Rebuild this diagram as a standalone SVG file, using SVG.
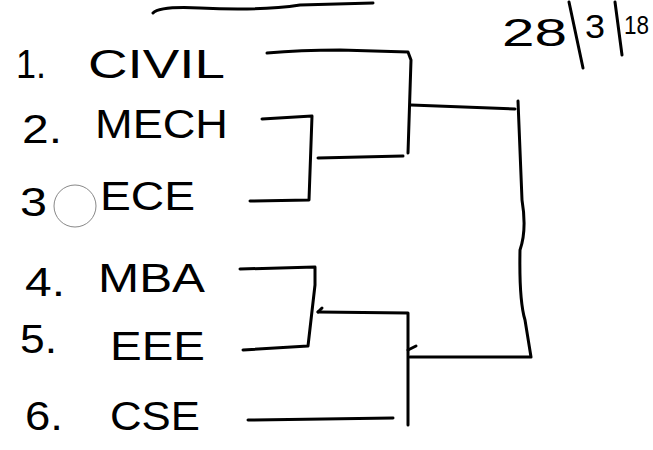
<svg xmlns="http://www.w3.org/2000/svg" width="653" height="450" viewBox="0 0 653 450">
<style>
.t{font-family:"Liberation Sans","DejaVu Sans",sans-serif;fill:#000;font-size:40px}
.c{fill:none;stroke:#000;stroke-width:3;stroke-linecap:round;stroke-linejoin:round}
</style>
<rect width="653" height="450" fill="#fff"/>
<path class="c" d="M153,13 Q160,6 200,8 Q260,11 300,5 L373,3"/>
<g id="date">
<text class="t" x="502" y="46" style="font-size:38px" textLength="65" lengthAdjust="spacingAndGlyphs">28</text>
<path class="c" d="M569,2 L583,68"/>
<text class="t" x="585" y="38" style="font-size:33px" textLength="20" lengthAdjust="spacingAndGlyphs">3</text>
<path class="c" d="M615,2 L622,55"/>
<text class="t" x="624" y="34" style="font-size:26px" textLength="25" lengthAdjust="spacingAndGlyphs">18</text>
</g>
<g id="n1"><text class="t" x="16" y="78" textLength="30" lengthAdjust="spacingAndGlyphs">1.</text><text class="t" x="88" y="78" textLength="137" lengthAdjust="spacingAndGlyphs">CIVIL</text></g>
<g id="n2"><text class="t" x="22" y="143" textLength="40" lengthAdjust="spacingAndGlyphs">2.</text><text class="t" x="95" y="138" textLength="133" lengthAdjust="spacingAndGlyphs">MECH</text></g>
<g id="n3"><text class="t" x="20" y="216" textLength="27" lengthAdjust="spacingAndGlyphs">3</text><circle cx="75" cy="206" r="21" fill="none" stroke="#888" stroke-width="1"/><text class="t" x="100" y="210" textLength="95" lengthAdjust="spacingAndGlyphs">ECE</text></g>
<g id="n4"><text class="t" x="25" y="296" textLength="40" lengthAdjust="spacingAndGlyphs">4.</text><text class="t" x="98" y="292" textLength="107" lengthAdjust="spacingAndGlyphs">MBA</text></g>
<g id="n5"><text class="t" x="20" y="353" textLength="37" lengthAdjust="spacingAndGlyphs">5.</text><text class="t" x="110" y="360" textLength="95" lengthAdjust="spacingAndGlyphs">EEE</text></g>
<g id="n6"><text class="t" x="25" y="430" textLength="38" lengthAdjust="spacingAndGlyphs">6.</text><text class="t" x="110" y="430" textLength="90" lengthAdjust="spacingAndGlyphs">CSE</text></g>
<g id="connectors">
<path class="c" d="M267,53 Q300,50 340,50 L408,52 L411,60 L408,153"/>
<path class="c" d="M262,119 L312,116 L309,200 L250,201"/>
<path class="c" d="M318,158 L403,156"/>
<path class="c" d="M411,105 L515,109 M518,101 L522,200 Q527,230 520,250 Q519,300 525,320 L531,357 L410,357"/>
<path class="c" d="M240,269 L315,267 L315,285 L308,346 L243,350"/>
<path class="c" d="M318,312 L408,313 L408,425 M248,420 L393,418"/>
<path class="c" d="M318,312 L322,308 M408,350 L416,346"/>
</g>
</svg>
